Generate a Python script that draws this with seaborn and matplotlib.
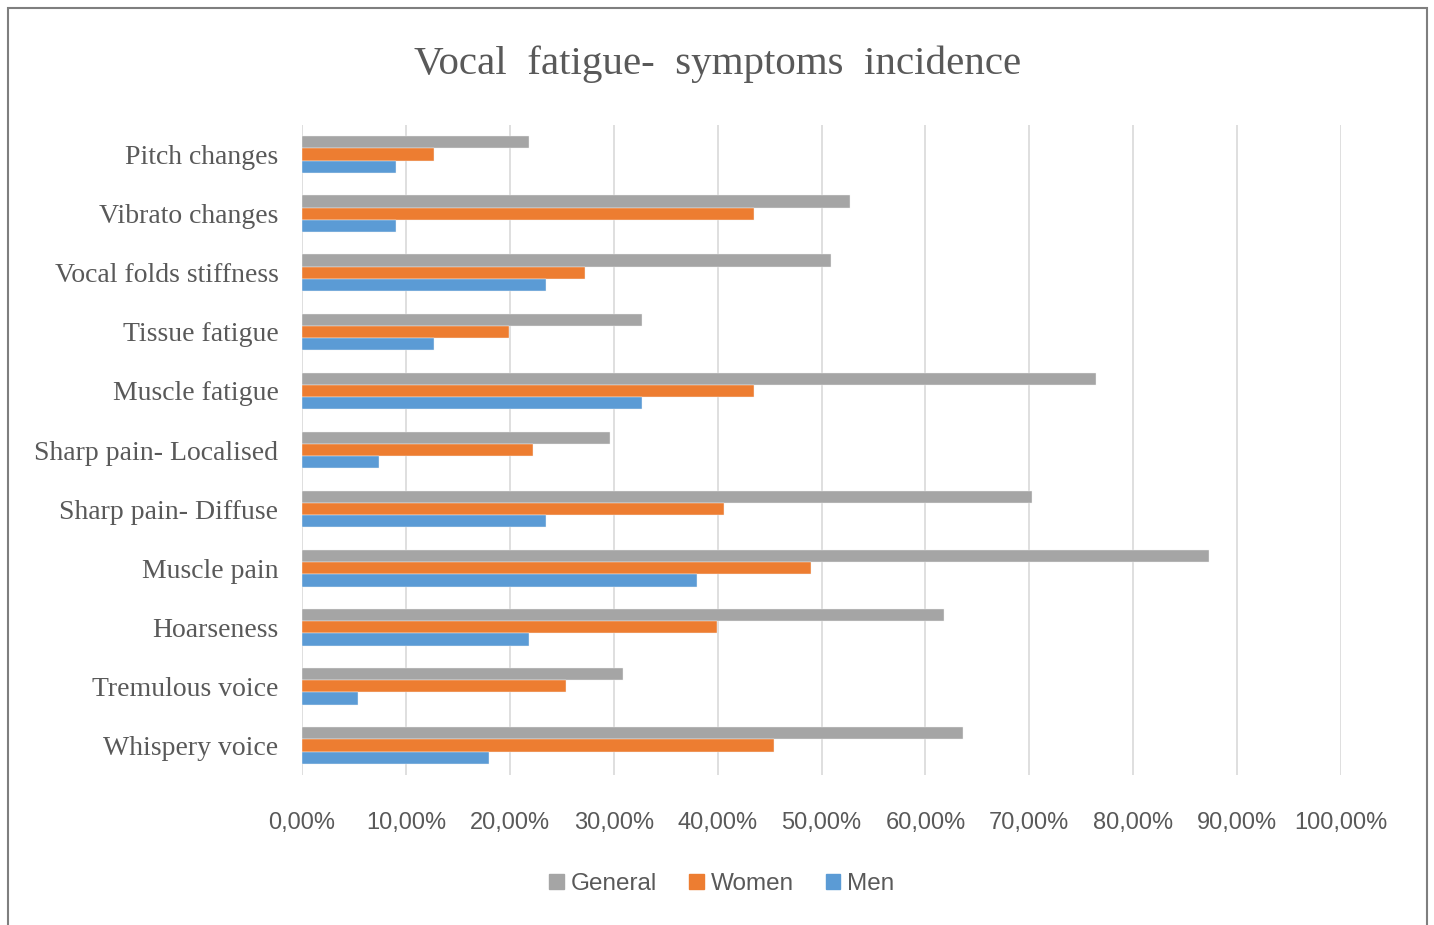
import numpy as np
import pandas as pd
import matplotlib
matplotlib.use("Agg")
import matplotlib.pyplot as plt
import matplotlib.patches as mpatches
from matplotlib.ticker import FuncFormatter
import seaborn as sns

symptoms = ["Pitch changes", "Vibrato changes", "Vocal folds stiffness",
            "Tissue fatigue", "Muscle fatigue", "Sharp pain- Localised",
            "Sharp pain- Diffuse", "Muscle pain", "Hoarseness",
            "Tremulous voice", "Whispery voice"]
general = [21.8, 52.7, 50.9, 32.7, 76.4, 29.6, 70.3, 87.3, 61.8, 30.9, 63.6]
women = [12.7, 43.5, 27.2, 19.9, 43.5, 22.2, 40.6, 49.0, 39.9, 25.4, 45.4]
men = [9.0, 9.0, 23.5, 12.7, 32.7, 7.4, 23.5, 38.0, 21.8, 5.4, 18.0]
groups = ["General", "Women", "Men"]
colors = ["#A5A5A5", "#ED7D31", "#5B9BD5"]
x_ticks = np.arange(0, 101, 10)

df = pd.DataFrame({
    "symptom": symptoms * 3,
    "group": [g for g in groups for _ in symptoms],
    "value": general + women + men,
})

sns.set_style("white")
text_col = "#595959"

fig = plt.figure(figsize=(14.34, 9.25), dpi=100)
ax = fig.add_axes([302 / 1434, 1 - 775 / 925, (1341 - 302) / 1434, 650 / 925])

sns.barplot(data=df, y="symptom", x="value", hue="group", hue_order=groups,
            order=symptoms, palette=colors, saturation=1, width=0.62, orient="h",
            edgecolor="#f2f2f2", linewidth=0.3, ax=ax)

ax.set_xlim(0, 100)
ax.set_ylim(len(symptoms) - 0.5, -0.5)
ax.set_xticks(x_ticks)
ax.xaxis.set_major_formatter(FuncFormatter(lambda v, p: f"{v:.2f}%".replace(".", ",")))
ax.grid(axis="x", color="#d9d9d9", linewidth=1.2)
ax.set_axisbelow(True)
for s in ax.spines.values():
    s.set_visible(False)
ax.set_xlabel("")
ax.set_ylabel("")
ax.tick_params(axis="both", length=0)
ax.tick_params(axis="y", pad=17)
ax.tick_params(axis="x", pad=27)

for lab in ax.get_yticklabels():
    lab.set_fontfamily("Liberation Serif")
    lab.set_fontsize(20)
    lab.set_color(text_col)
for lab in ax.get_xticklabels():
    lab.set_fontfamily("Liberation Sans")
    lab.set_fontsize(17)
    lab.set_color(text_col)

ax.legend_.remove()
handles = [mpatches.Patch(color=c, label=g) for g, c in zip(groups, colors)]
fig.legend(handles=handles, loc="center", bbox_to_anchor=(722 / 1434, 1 - 884 / 925),
           ncol=3, frameon=False, handlelength=0.6, handleheight=0.6,
           handletextpad=0.3, columnspacing=1.3,
           prop={"family": "Liberation Sans", "size": 17.5},
           labelcolor=text_col)

fig.text(718 / 1434, 1 - 64 / 925, "Vocal  fatigue-  symptoms  incidence",
         ha="center", va="center", fontsize=29.5, family="Liberation Serif", color=text_col)

# outer chart border
fig.patches.append(mpatches.Rectangle((8 / 1434, -0.02), (1427 - 8) / 1434, 1 - 8 / 925 + 0.02,
                                      transform=fig.transFigure, fill=False,
                                      edgecolor="#7f7f7f", linewidth=1.5))

fig.savefig("out.png", dpi=100)
